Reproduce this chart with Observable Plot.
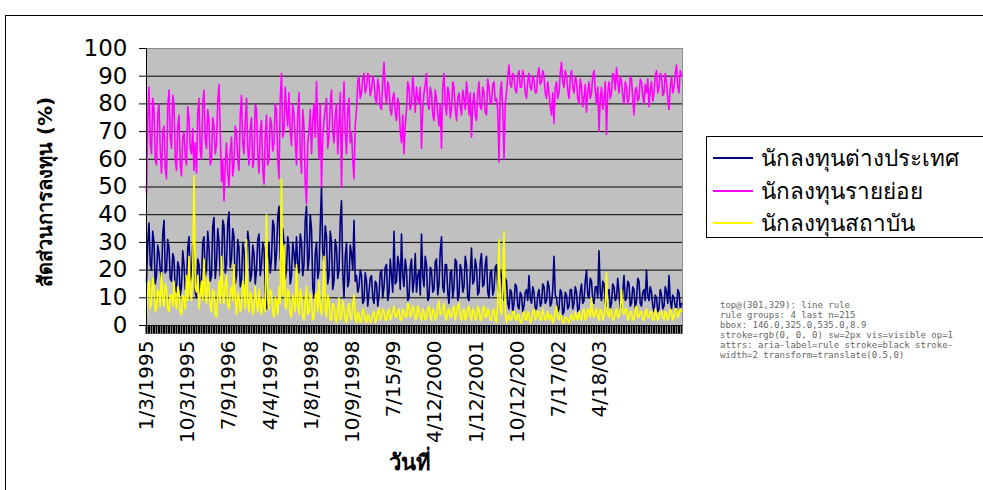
<!DOCTYPE html>
<html>
<head>
<meta charset="utf-8">
<script src="https://cdn.jsdelivr.net/npm/d3@7"></script>
<script src="https://cdn.jsdelivr.net/npm/@observablehq/plot@0.6"></script>
<style>
  body { margin:0; width:983px; height:490px; overflow:hidden; position:relative; background:#fff; }
  .thai { font-family: "Tahoma", "DejaVu Sans", "Noto Sans", sans-serif; color:#000; }
  #frame { position:absolute; left:5px; top:15px; width:1100px; height:600px; border-left:1px solid #000; border-top:1px solid #000; z-index:0; }
  #chart { position:absolute; left:0; top:0; z-index:1; }
  #ytitle { position:absolute; left:45px; top:192px; transform:translate(-50%,-50%) rotate(-90deg); font-weight:bold; font-size:20px; white-space:nowrap; z-index:2; }
  #xtitle { position:absolute; left:410px; top:462px; transform:translate(-50%,-50%); font-weight:bold; font-size:22px; white-space:nowrap; z-index:2; }
  #legend { position:absolute; left:706px; top:136px; width:320px; height:100px; border:1px solid #000; background:#fff; z-index:2; }
  .row { position:absolute; left:6px; height:30px; display:flex; align-items:center; font-size:22.5px; white-space:nowrap; }
  .sw { display:inline-block; width:40px; height:0; border-top:2px solid; margin-right:8px; }
  #dbg { position:absolute; left:720px; top:300px; width:260px; font-size:9px; color:#666; white-space:pre-wrap; z-index:3; font-family:monospace; }
</style>
</head>
<body>
<div id="frame"></div>
<div id="chart"></div>
<div id="ytitle" class="thai">สัดส่วนการลงทุน (%)</div>
<div id="xtitle" class="thai">วันที่</div>
<div id="legend" class="thai"></div>
<div id="dbg"></div>
<script>
// Series names (legend order) and colours
const seriesNames = ["นักลงทุนต่างประเทศ", "นักลงทุนรายย่อย", "นักลงทุนสถาบัน"];
const seriesColors = ["#000080", "#ff00ff", "#ffff00"];

// Category tick labels (one every ~33 sampled points)
const tickLabels = ["1/3/1995","10/3/1995","7/9/1996","4/4/1997","1/8/1998","10/9/1998","7/15/99","4/12/2000","1/12/2001","10/12/200","7/17/02","4/18/03"];
const labelStep = 32.96;

// Foreign investors (%)
const foreign = [
16,30,37,22,20,34,30,15,18,29,26,20,17,33,38,19,20,31,28,17,
16,26,24,13,12,23,21,11,14,27,22,13,15,28,32,16,18,29,25,12,
10,24,22,12,16,30,32,18,20,34,28,16,18,36,39,17,22,35,30,18,
20,38,36,19,22,37,41,21,24,35,32,15,18,31,28,14,16,30,27,15,
19,34,30,16,18,29,26,15,20,31,33,18,22,30,28,12,6,24,30,19,
24,38,36,20,26,39,43,24,22,35,30,17,20,32,28,15,18,30,26,21,
32,22,19,33,30,18,22,38,43,20,24,40,35,14,10,26,30,17,20,36,
50,27,22,36,32,15,18,34,30,13,16,31,28,17,20,38,45,19,10,25,
30,14,16,29,26,20,38,16,18,12,14,20,18,8,9,19,16,7,12,17,
18,10,8,16,15,7,11,19,20,10,14,21,22,9,12,24,18,12,34,15,
16,25,22,13,33,18,14,24,20,9,10,21,24,12,16,26,12,18,20,11,
33,18,14,25,22,9,10,21,20,12,13,23,24,11,15,27,32,14,12,22,
22,12,8,19,20,10,14,24,23,9,11,22,20,12,14,25,22,10,9,19,
28,15,16,24,21,11,12,23,26,14,15,22,25,12,10,19,20,11,13,21,
22,14,12,20,18,9,10,17,16,8,6,13,12,5,8,15,14,7,6,12,
11,5,7,12,13,9,18,10,8,14,12,6,6,11,13,7,8,15,14,8,
9,16,14,7,8,13,25,11,10,5,6,13,12,4,5,12,11,6,7,13,
13,6,8,14,12,5,6,12,15,8,9,16,20,11,10,17,16,9,8,14,
14,10,27,12,9,16,15,8,7,12,13,6,8,15,14,9,10,17,12,6,
7,12,18,9,10,16,15,7,8,14,13,6,9,17,16,8,7,12,13,9,
20,11,9,14,12,7,5,11,10,5,6,13,11,6,7,14,12,8,18,9,
6,11,10,7,5,13,12,6,8
];

// Retail investors (%)
const retail = [
48,74,86,66,62,82,78,60,58,76,80,63,55,70,72,57,53,79,85,68,
64,83,80,60,56,72,76,58,54,68,70,61,58,79,75,64,62,71,56,66,
55,77,82,63,60,80,85,67,64,78,74,58,60,75,72,62,65,81,87,70,
52,60,45,58,66,55,50,63,68,54,58,72,70,60,56,76,83,66,62,74,
82,64,58,71,75,57,60,80,78,62,55,70,74,56,51,68,76,58,60,75,
73,63,66,80,78,60,53,82,91,68,70,86,78,72,84,70,65,80,76,67,
58,76,84,62,55,78,72,52,44,66,70,78,62,74,80,68,88,72,60,80,
50,68,74,78,82,64,68,80,85,70,66,76,80,62,72,84,50,75,88,70,
62,78,82,66,70,60,53,72,78,88,90,82,84,89,91,84,86,91,90,83,
85,90,88,82,80,89,86,79,78,88,95,84,80,88,86,78,76,82,84,77,
74,82,80,70,66,76,62,72,78,88,86,78,80,90,84,77,86,82,80,86,
64,78,84,87,91,80,78,86,84,76,74,85,82,76,72,80,64,86,91,80,
76,86,84,75,78,88,86,78,74,82,84,79,76,85,82,78,88,83,76,84,
68,80,84,76,74,84,88,79,78,86,84,77,76,89,86,80,80,87,88,81,
82,78,59,84,88,78,60,80,84,90,94,87,86,91,90,85,84,90,92,86,
86,92,90,84,82,88,91,86,85,90,89,84,84,91,93,87,88,92,90,84,
82,88,84,79,76,84,73,86,88,82,84,91,95,88,86,92,90,85,82,89,
92,86,84,90,88,82,80,89,86,79,82,87,77,84,88,82,84,90,92,85,
80,86,70,82,86,78,82,88,69,84,88,82,84,91,90,85,93,88,84,90,
88,83,80,88,86,80,82,90,89,82,76,85,86,81,82,89,88,83,80,87,
84,89,79,85,88,81,84,90,92,84,86,91,90,83,84,91,88,82,78,86,
90,84,86,91,94,86,84,92,90
];

// Institutional investors (%)
const institutional = [
4,12,16,6,8,17,14,5,6,13,12,7,19,10,7,15,13,6,5,11,
11,7,16,9,6,14,12,5,4,11,10,6,18,9,25,12,9,20,54,14,
12,18,6,11,16,9,24,13,8,17,14,7,5,13,12,4,3,10,16,8,
25,11,8,15,18,7,6,12,14,9,22,10,4,12,10,5,7,16,12,6,
31,9,5,12,11,4,6,14,9,5,13,7,4,10,8,5,40,10,6,13,
12,5,3,10,9,4,14,8,53,11,29,7,6,13,12,4,3,11,9,5,
22,8,4,13,11,3,2,9,14,4,5,12,10,2,3,11,12,5,16,7,
4,10,25,6,3,11,9,2,2,8,7,3,1,6,10,2,3,9,6,2,
1,6,8,3,2,7,11,3,1,5,4,1,2,6,5,2,1,4,3,1,
2,4,5,1,2,5,6,2,3,6,5,2,2,5,6,2,3,5,7,3,
3,5,6,2,2,6,5,3,3,8,7,3,4,7,6,2,3,7,6,3,
2,6,5,2,3,6,7,3,2,6,5,2,3,7,9,4,4,6,8,3,
2,5,6,3,3,6,7,2,4,7,8,3,2,5,6,2,3,6,7,3,
2,6,5,2,3,7,6,2,2,6,7,3,3,6,5,2,2,5,6,2,
1,8,31,6,4,12,34,5,1,3,4,2,2,5,5,2,2,4,4,1,
1,4,5,2,2,5,4,1,2,5,6,2,3,5,5,2,2,6,4,2,
3,5,2,3,4,1,2,5,7,3,2,4,3,1,1,3,3,2,1,3,
4,2,2,5,3,2,5,3,2,5,6,2,3,6,5,3,10,4,3,5,
6,3,2,6,5,2,3,7,19,4,3,6,5,2,2,5,6,3,3,6,
13,5,4,6,6,2,3,5,5,2,2,6,7,3,3,5,5,2,2,5,
6,3,3,5,5,2,2,6,4,2,3,5,5,3,2,5,4,2,3,6,
5,2,3,6,6,3,4,6,5
];

const series = [foreign, retail, institutional];
const n = foreign.length;
const tickIdx = d3.range(0, n, 2);
const labelIdx = tickLabels.map((_, k) => k * labelStep);
const tickLen = 3.2; // category tick length below the axis, in y units

const chart = Plot.plot({
  width: 983, height: 490,
  marginLeft: 146, marginRight: 301, marginTop: 48, marginBottom: 165,
  style: { background: "transparent", fontFamily: "DejaVu Sans", fontSize: "22px", color: "#000", overflow: "visible" },
  x: { domain: [0, 428.8], axis: null },
  y: { domain: [0, 100], axis: null },
  marks: [
    Plot.frame({ fill: "#c0c0c0", stroke: "#8c8c8c" }),
    Plot.ruleY(d3.range(10, 100, 10), { stroke: "#000", strokeWidth: 1 }),
    ...series.map((vals, s) => Plot.lineY(vals, { x: (d, i) => i, y: d => d, stroke: seriesColors[s], strokeWidth: 1.6 })),
    Plot.ruleX([0], { stroke: "#000" }),
    Plot.ruleY([0], { stroke: "#000" }),
    Plot.axisY({ ticks: d3.range(0, 101, 10), tickSize: 7, tickPadding: 12, fontSize: 23, tickFormat: d => String(d) }),
    Plot.axisX({ ticks: labelIdx, tickSize: 0, tickRotate: -90, tickPadding: 15, fontSize: 20, tickFormat: (d, k) => tickLabels[k] }),
    Plot.ruleX(tickIdx, { x: d => d, y1: 0, y2: -tickLen, stroke: "black", strokeWidth: 2, strokeOpacity: 1 })
  ]
});
document.getElementById("chart").appendChild(chart);

const legend = document.getElementById("legend");
seriesNames.forEach((name, s) => {
  const r = document.createElement("div");
  r.className = "row";
  r.style.top = (6 + s * 32.5) + "px";
  const sw = document.createElement("span");
  sw.className = "sw";
  sw.style.borderTopColor = seriesColors[s];
  r.appendChild(sw);
  r.appendChild(document.createTextNode(name));
  legend.appendChild(r);
});

// temporary diagnostics: what sits on top of the tick strip
const el = document.elementFromPoint(301, 329);
const rules = chart.querySelectorAll('g[aria-label="rule"]');
const last = rules[rules.length - 1];
const cs = last ? getComputedStyle(last) : null;
const bb = last ? last.getBBox() : null;
document.getElementById("dbg").textContent =
  "top@(301,329): " + (el ? el.tagName + " " + (el.parentNode && el.parentNode.getAttribute ? el.parentNode.getAttribute("aria-label") : "") : "none") +
  "\nrule groups: " + rules.length + " last n=" + (last ? last.children.length : 0) +
  "\nbbox: " + (bb ? [bb.x, bb.y, bb.width, bb.height].map(v => v.toFixed(1)).join(",") : "") +
  "\nstroke=" + (cs ? cs.stroke + " sw=" + cs.strokeWidth + " vis=" + cs.visibility + " op=" + cs.opacity : "") +
  "\nattrs: " + (last ? Array.from(last.attributes).map(a => a.name + "=" + a.value).join(" ").slice(0, 160) : "");
</script>
</body>
</html>
